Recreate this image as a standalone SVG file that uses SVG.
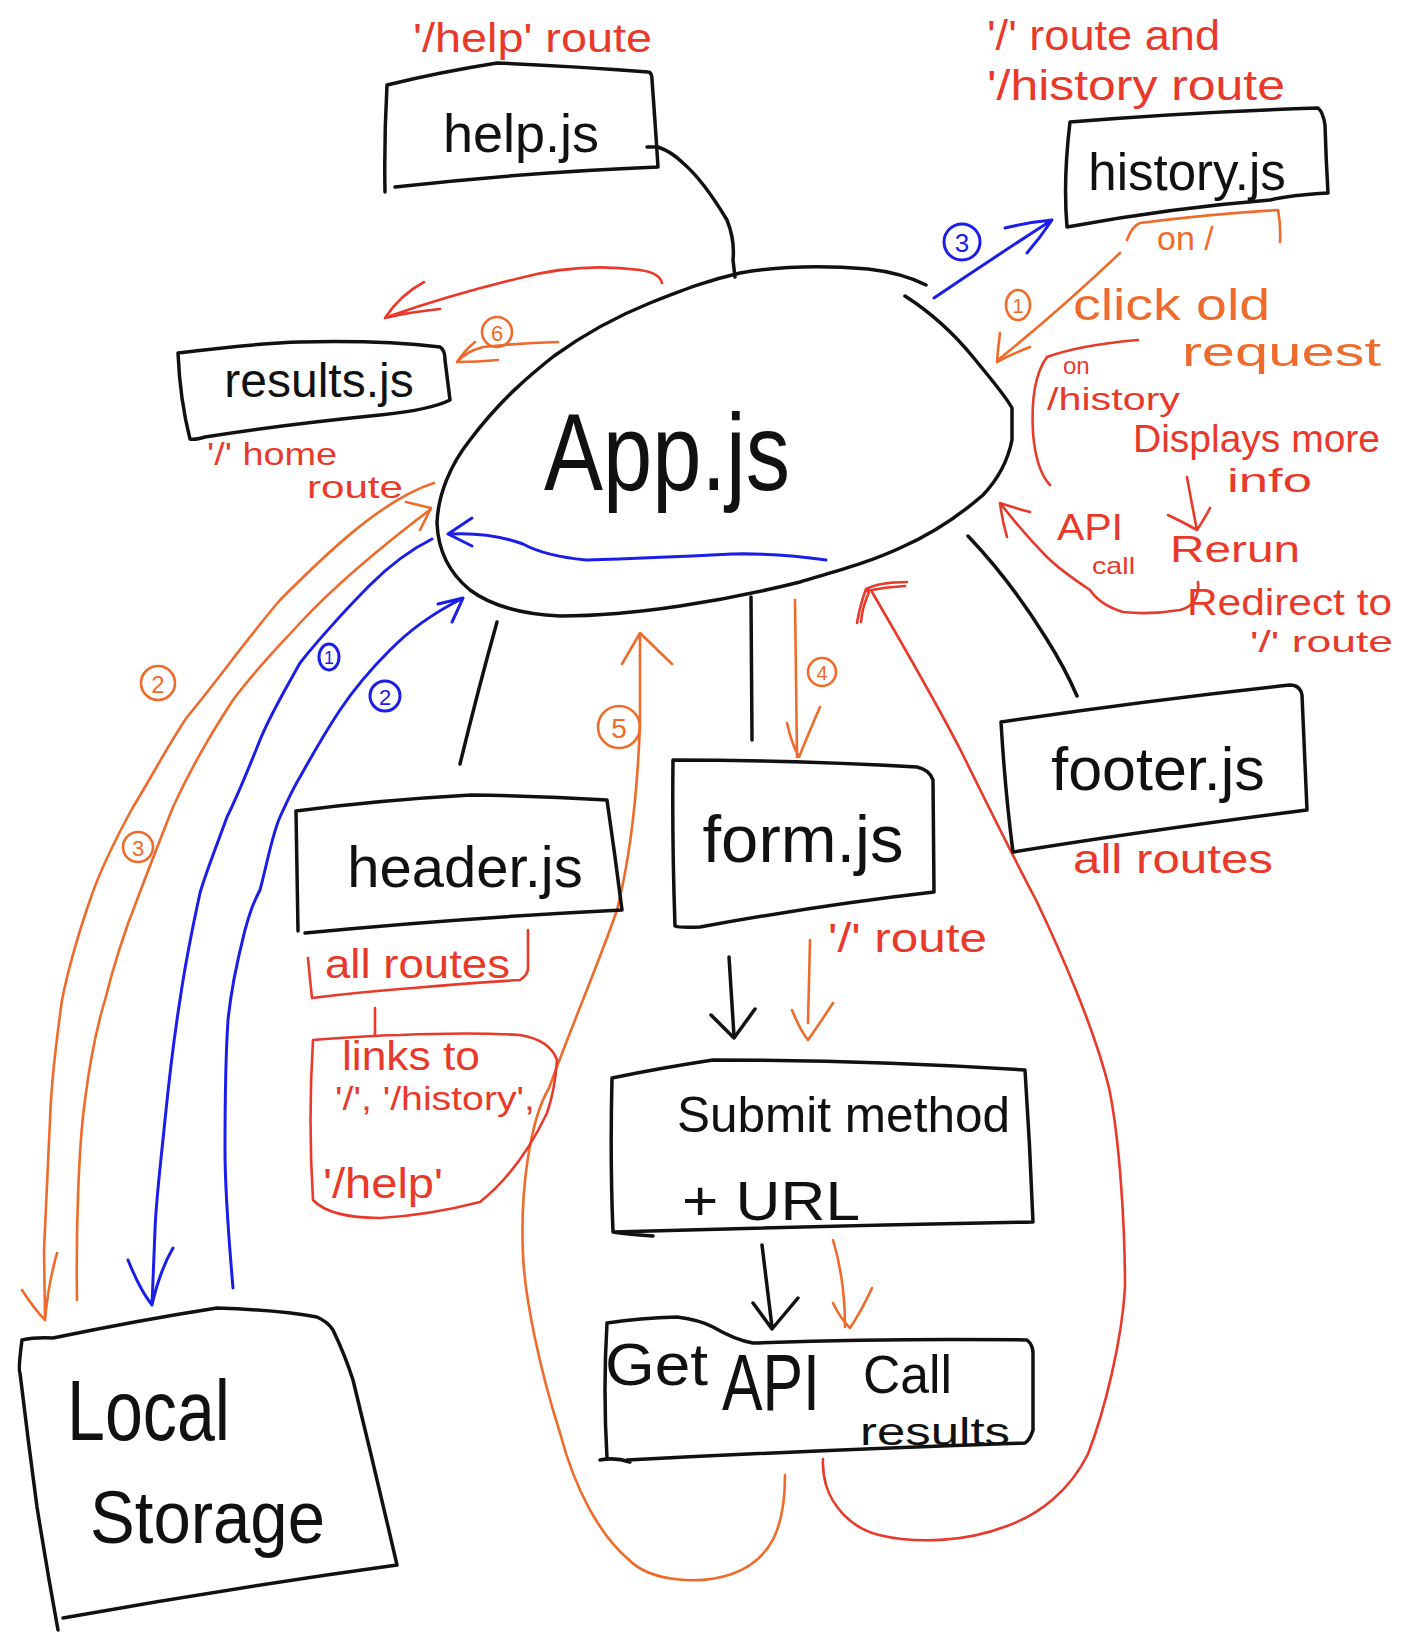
<svg xmlns="http://www.w3.org/2000/svg" width="1411" height="1640" viewBox="0 0 1411 1640">
<defs>
<style>
.bk{fill:none;stroke:#111;stroke-width:3.5;stroke-linecap:round;stroke-linejoin:round}
.rd{fill:none;stroke:#e8392a;stroke-width:2.6;stroke-linecap:round;stroke-linejoin:round}
.or{fill:none;stroke:#ee6b2b;stroke-width:2.6;stroke-linecap:round;stroke-linejoin:round}
.bl{fill:none;stroke:#1a1ee6;stroke-width:3;stroke-linecap:round;stroke-linejoin:round}
text{font-family:"Liberation Sans","DejaVu Sans",sans-serif}
.t{fill:#111}
.r{fill:#e8392a}
.o{fill:#ee6b2b}
.b{fill:#1a1ee6}
</style>
</defs>
<rect width="1411" height="1640" fill="#fff"/>

<g id="connectors">
<path class="bk" d="M647,147 L658,147 Q672,152 683,163 Q703,180 727,220 Q735,240 733,260 L735,277"/>
<path class="bk" d="M497,622 Q478,690 460,764"/>
<path class="bk" d="M751,597 L752,740"/>
<path class="bk" d="M968,536 Q1010,580 1046,638 Q1065,668 1077,696"/>
<path class="bk" d="M729,957 L734,1036 M711,1015 L734,1038 L755,1009"/>
<path class="bk" d="M762,1245 L772,1327 M753,1303 L772,1329 L798,1298"/>
<path class="or" d="M795,600 L797,757 M787,723 Q792,745 799,757 Q810,730 820,707"/>
<path class="or" d="M810,940 L808,1023 M792,1010 Q800,1030 808,1040 Q822,1020 833,1003"/>
<path class="or" d="M833,1240 Q845,1280 845,1327 M833,1303 Q840,1318 850,1328 Q862,1310 872,1288"/>
<path class="or" d="M785,1475 C785,1530 770,1560 732,1574 C700,1585 650,1582 628,1559 C600,1535 575,1490 560,1433 C540,1370 525,1300 523,1255 C520,1190 530,1120 549,1088 C570,1030 600,960 617,910 C632,850 638,780 640,722 L640,636 M622,664 L640,633 L672,664"/>
<path class="rd" d="M872,592 C900,640 935,700 962,753 C990,810 1015,860 1036,900 C1060,950 1095,1030 1109,1088 C1120,1140 1125,1230 1125,1287 C1122,1340 1105,1410 1088,1454 C1070,1490 1040,1515 1004,1527 C970,1540 920,1545 879,1535 C850,1528 832,1505 826,1485 C822,1470 823,1460 823,1459"/>
<path class="rd" d="M907,582 Q880,582 866,589 M905,586 Q885,587 866,591 M866,589 Q860,605 857,623 M869,592 Q862,608 861,622"/>
<path class="rd" d="M662,283 Q660,273 640,270 Q580,262 520,278 Q450,295 390,316 M424,282 Q400,295 385,318 Q410,312 440,309"/>
<path class="or" d="M558,342 Q520,343 483,347 Q465,352 457,362 Q478,362 498,360 M457,362 Q465,350 475,342"/>
<path class="bl" d="M934,298 Q990,260 1052,220 M1005,228 Q1030,222 1052,220 Q1040,238 1027,253"/>
<path class="or" d="M1120,253 Q1060,310 998,360 M1000,333 Q998,348 997,362 Q1012,354 1030,347"/>
<path class="bl" d="M826,560 Q780,553 732,554 Q650,558 586,560 Q545,556 523,544 Q490,532 450,534 M472,518 L448,534 L472,546"/>
<path class="bl" d="M432,539 C410,550 390,565 370,585 C340,615 310,650 300,663 C285,690 270,715 260,740 C248,770 238,795 227,817 C215,850 205,875 200,893 C192,930 185,965 180,1000 C172,1050 168,1090 165,1120 C160,1170 156,1200 155,1230 L152,1305 M128,1260 Q140,1290 152,1305 Q160,1270 173,1248"/>
<path class="bl" d="M233,1288 C228,1230 225,1180 225,1150 C225,1080 226,1050 228,1020 C232,980 240,950 245,930 C252,905 255,900 260,890 C268,860 272,835 280,817 C290,795 295,785 300,777 C315,750 330,725 340,710 C360,680 380,660 390,650 C410,630 430,615 463,598 M438,604 L463,598 L452,622"/>
<path class="or" d="M434,483 C380,500 320,560 280,600 C250,635 210,690 187,717 C165,750 150,780 133,807 C115,840 100,870 90,900 C78,935 68,970 62,1000 C55,1050 51,1090 50,1120 C47,1180 45,1230 44,1250 L45,1318 M22,1290 Q35,1310 45,1320 Q48,1285 57,1253"/>
<path class="or" d="M77,1300 C76,1240 78,1150 85,1100 C90,1060 96,1030 105,1000 C115,960 125,930 137,900 C148,870 160,840 173,807 C190,770 210,735 233,700 C255,670 280,645 300,623 C340,580 390,540 431,509 M406,502 L431,508 L420,530"/>
<path class="rd" d="M1198,582 Q1200,605 1180,610 Q1150,615 1123,612 Q1100,605 1090,590 Q1060,570 1047,557 Q1025,535 1000,503 M1007,537 Q1002,520 1000,503 Q1015,508 1030,512"/>
<path class="rd" d="M1187,477 Q1192,505 1197,530 M1168,515 Q1183,522 1197,530 Q1205,518 1210,508"/>
<path class="rd" d="M375,1008 L375,1035"/>
</g>

<g id="labels">
<circle class="or" cx="158" cy="683" r="17"/><text class="o" x="158" y="693" font-size="24" text-anchor="middle">2</text>
<circle class="or" cx="138" cy="847" r="15"/><text class="o" x="138" y="856" font-size="22" text-anchor="middle">3</text>
<ellipse class="bl" cx="329" cy="657" rx="10" ry="13"/><text class="b" x="329" y="664" font-size="18" text-anchor="middle">1</text>
<circle class="bl" cx="385" cy="696" r="15"/><text class="b" x="385" y="705" font-size="22" text-anchor="middle">2</text>
<circle class="or" cx="822" cy="672" r="14"/><text class="o" x="822" y="680" font-size="20" text-anchor="middle">4</text>
<circle class="or" cx="619" cy="727" r="21"/><text class="o" x="619" y="738" font-size="28" text-anchor="middle">5</text>
<circle class="or" cx="497" cy="332" r="15"/><text class="o" x="497" y="341" font-size="22" text-anchor="middle">6</text>
<circle class="bl" cx="962" cy="242" r="18"/><text class="b" x="962" y="252" font-size="26" text-anchor="middle">3</text>
<ellipse class="or" cx="1018" cy="305" rx="12" ry="15"/><text class="o" x="1018" y="313" font-size="20" text-anchor="middle">1</text>
<path class="or" d="M1127,240 Q1132,226 1140,223 Q1210,214 1278,210 Q1281,225 1280,242"/>
<text class="o" x="1157" y="250" font-size="34">on /</text>
<text class="o" x="1073" y="320" font-size="44" textLength="197" lengthAdjust="spacingAndGlyphs">click old</text>
<text class="o" x="1182" y="366" font-size="40" textLength="199" lengthAdjust="spacingAndGlyphs">request</text>
<path class="rd" d="M1138,340 Q1080,345 1047,357 Q1030,380 1033,433 Q1036,470 1050,485"/>
<text class="r" x="1063" y="374" font-size="24">on</text>
<text class="r" x="1047" y="410" font-size="32" textLength="133" lengthAdjust="spacingAndGlyphs">/history</text>
<text class="r" x="1133" y="452" font-size="38" textLength="247" lengthAdjust="spacingAndGlyphs">Displays more</text>
<text class="r" x="1227" y="492" font-size="34" textLength="85" lengthAdjust="spacingAndGlyphs">info</text>
<text class="r" x="1057" y="540" font-size="36" textLength="66" lengthAdjust="spacingAndGlyphs">API</text>
<text class="r" x="1092" y="574" font-size="24" textLength="43" lengthAdjust="spacingAndGlyphs">call</text>
<text class="r" x="1170" y="562" font-size="36" textLength="130" lengthAdjust="spacingAndGlyphs">Rerun</text>
<text class="r" x="1187" y="615" font-size="36" textLength="205" lengthAdjust="spacingAndGlyphs">Redirect to</text>
<text class="r" x="1250" y="652" font-size="30" textLength="143" lengthAdjust="spacingAndGlyphs">'/' route</text>
<text class="r" x="828" y="952" font-size="40" textLength="159" lengthAdjust="spacingAndGlyphs">'/' route</text>
</g>

<g id="help">
<path class="bk" d="M387,85 Q440,72 497,63 Q570,66 648,72 Q652,72 652,80 Q655,120 658,167 Q530,172 395,187 M387,85 Q384,140 385,192"/>
<text class="t" x="521" y="152" font-size="54" text-anchor="middle">help.js</text>
<text class="r" x="413" y="52" font-size="40" textLength="239" lengthAdjust="spacingAndGlyphs">'/help' route</text>
</g>

<g id="history">
<path class="bk" d="M1070,122 Q1190,112 1318,108 Q1323,112 1325,125 Q1326,160 1328,193 Q1290,195 1270,200 Q1170,208 1067,227 Q1063,180 1070,122 Z"/>
<text class="t" x="1187" y="190" font-size="51" text-anchor="middle">history.js</text>
<text class="r" x="987" y="50" font-size="42" textLength="233" lengthAdjust="spacingAndGlyphs">'/' route and</text>
<text class="r" x="987" y="100" font-size="42" textLength="298" lengthAdjust="spacingAndGlyphs">'/history route</text>
</g>

<g id="results">
<path class="bk" d="M178,353 Q260,343 300,342 Q380,340 440,347 Q445,350 445,360 L450,400 Q430,410 380,415 Q280,425 205,437 Q195,440 190,439 Q180,400 178,353 Z"/>
<text class="t" x="319" y="397" font-size="48" text-anchor="middle">results.js</text>
<text class="r" x="207" y="465" font-size="32" textLength="130" lengthAdjust="spacingAndGlyphs">'/' home</text>
<text class="r" x="307" y="498" font-size="32" textLength="96" lengthAdjust="spacingAndGlyphs">route</text>
</g>

<g id="app">
<path class="bk" d="M905,296 C930,312 955,335 973,357 C990,378 1005,395 1012,408 L1012,440 C1008,460 1000,477 983,495 C960,515 930,535 900,548 C870,562 840,570 800,582 C760,592 720,600 680,606 C640,612 600,616 560,616 C520,614 490,605 470,590 C448,572 438,550 437,523 C438,495 450,465 470,440 C500,400 530,375 554,356 C590,330 620,315 650,303 C690,287 710,280 740,273 C780,266 820,265 868,269 C895,272 912,278 926,285"/>
<text class="t" x="544" y="490" font-size="110" textLength="246" lengthAdjust="spacingAndGlyphs">App.js</text>
</g>

<g id="header">
<path class="bk" d="M296,811 Q380,800 471,795 Q540,796 607,800 Q615,855 622,910 Q460,918 305,933 M296,811 Q297,870 298,931"/>
<text class="t" x="465" y="887" font-size="58" text-anchor="middle">header.js</text>
<path class="rd" d="M308,958 Q310,980 312,998 Q360,992 413,988 Q470,983 520,980 Q528,975 528,968 L528,930"/>
<text class="r" x="325" y="978" font-size="40" textLength="185" lengthAdjust="spacingAndGlyphs">all routes</text>
</g>

<g id="links">
<path class="rd" d="M313,1040 Q380,1035 400,1035 Q470,1032 520,1035 Q550,1040 557,1060 Q555,1090 547,1113 Q520,1170 480,1202 Q430,1215 380,1218 Q330,1218 313,1200 Q308,1120 313,1040 Z"/>
<text class="r" x="342" y="1070" font-size="40" textLength="138" lengthAdjust="spacingAndGlyphs">links to</text>
<text class="r" x="335" y="1110" font-size="34" textLength="200" lengthAdjust="spacingAndGlyphs">'/', '/history',</text>
<text class="r" x="323" y="1198" font-size="42" textLength="120" lengthAdjust="spacingAndGlyphs">'/help'</text>
</g>

<g id="form">
<path class="bk" d="M673,760 Q800,760 917,767 Q930,770 933,780 L934,892 Q820,905 700,927 Q680,928 675,926 Q672,840 673,760 Z"/>
<text class="t" x="803" y="862" font-size="67" text-anchor="middle">form.js</text>
</g>

<g id="footer">
<path class="bk" d="M1001,722 Q1150,700 1290,685 Q1300,685 1302,695 L1307,810 Q1150,830 1013,852 Q1005,790 1001,722 Z"/>
<text class="t" x="1158" y="790" font-size="61" text-anchor="middle">footer.js</text>
<text class="r" x="1073" y="873" font-size="40" textLength="200" lengthAdjust="spacingAndGlyphs">all routes</text>
</g>

<g id="submit">
<path class="bk" d="M612,1078 Q660,1068 713,1060 Q870,1060 1025,1070 Q1030,1145 1033,1222 Q820,1226 613,1232 Q625,1234 653,1236 M612,1078 Q610,1160 613,1232"/>
<text class="t" x="677" y="1132" font-size="50" textLength="333" lengthAdjust="spacingAndGlyphs">Submit method</text>
<text class="t" x="682" y="1220" font-size="56" textLength="178" lengthAdjust="spacingAndGlyphs">+ URL</text>
</g>

<g id="getapi">
<path class="bk" d="M607,1323 Q640,1318 677,1317 Q700,1320 713,1327 Q735,1340 753,1343 Q900,1338 1027,1340 Q1033,1345 1033,1353 L1033,1430 Q1030,1440 1025,1443 Q820,1450 627,1460 M607,1323 Q603,1390 607,1458 M600,1460 Q615,1457 630,1462"/>
<text class="t" x="605" y="1385" font-size="60" textLength="103" lengthAdjust="spacingAndGlyphs">Get</text>
<text class="t" x="722" y="1410" font-size="80" textLength="98" lengthAdjust="spacingAndGlyphs">API</text>
<text class="t" x="863" y="1393" font-size="54" textLength="89" lengthAdjust="spacingAndGlyphs">Call</text>
<text class="t" x="860" y="1445" font-size="38" textLength="150" lengthAdjust="spacingAndGlyphs">results</text>
</g>

<g id="localstorage">
<path class="bk" d="M22,1340 Q35,1337 53,1338 Q140,1320 217,1308 Q280,1310 317,1317 Q328,1322 333,1330 Q345,1355 353,1380 Q375,1470 397,1565 Q230,1588 63,1618 M22,1340 Q18,1370 20,1373 Q28,1440 37,1507 Q47,1570 58,1630"/>
<text class="t" x="67" y="1440" font-size="85" textLength="163" lengthAdjust="spacingAndGlyphs">Local</text>
<text class="t" x="90" y="1543" font-size="75" textLength="235" lengthAdjust="spacingAndGlyphs">Storage</text>
</g>
</svg>
